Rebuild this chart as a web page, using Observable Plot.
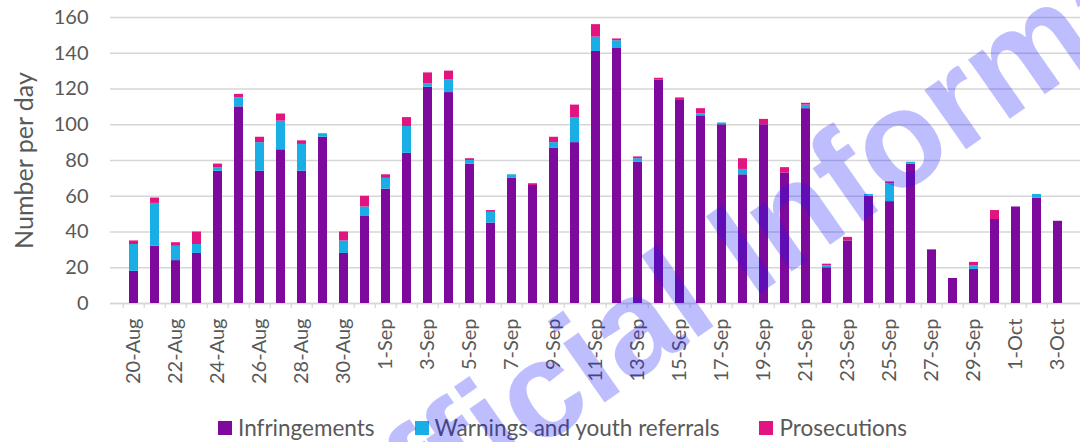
<!DOCTYPE html>
<html><head><meta charset="utf-8">
<script src="https://cdn.jsdelivr.net/npm/d3@7"></script>
<script src="https://cdn.jsdelivr.net/npm/@observablehq/plot@0.6"></script>
<style>
body{margin:0;background:#fff;width:1080px;height:442px;overflow:hidden;position:relative;font-family:Lato,sans-serif;}
#legend{position:absolute;left:0;top:414px;width:1080px;box-sizing:border-box;padding-left:218px;display:flex;justify-content:flex-start;align-items:center;font-size:22.5px;color:#595959;line-height:28px}
#legend .item{display:flex;align-items:center;margin-right:40px}
#legend .sw{display:inline-block;width:14px;height:14px;margin-right:6px}
#wm{position:absolute;left:0;top:0;pointer-events:none}
</style></head><body>
<div id="chart"></div>
<div id="legend"></div>
<svg id="wm" width="1080" height="442"><text x="341" y="587" transform="rotate(-35 341 587)" font-family="Liberation Sans, Arial, sans-serif" font-weight="bold" font-size="137" fill="rgb(20,20,250)" fill-opacity="0.28">Official Information</text></svg>
<script>
const dates = ["20-Aug","21-Aug","22-Aug","23-Aug","24-Aug","25-Aug","26-Aug","27-Aug","28-Aug","29-Aug","30-Aug","31-Aug",
"1-Sep","2-Sep","3-Sep","4-Sep","5-Sep","6-Sep","7-Sep","8-Sep","9-Sep","10-Sep",
"11-Sep","12-Sep","13-Sep","14-Sep","15-Sep","16-Sep","17-Sep","18-Sep","19-Sep","20-Sep",
"21-Sep","22-Sep","23-Sep","24-Sep","25-Sep","26-Sep","27-Sep","28-Sep","29-Sep","30-Sep",
"1-Oct","2-Oct","3-Oct"];
const infringements = [18,32,24,28,74,110,74,86,74,93,28,49,
64,84,121,118,78,45,70,66,87,90,
141,143,79,125,114,105,100,72,100,73,
109,20,35,60,57,78,30,14,19,47,
54,59,46];
const warnings = [15,24,8,5,2,5,16,16,15,2,7,5,
6,15,2,7,2,6,2,0,3,14,
8,4,2,0,0,1,1,3,0,0,
2,1,0,1,10,1,0,0,2,0,
0,2,0];
const prosecutions = [2,3,2,7,2,2,3,4,2,0,5,6,
2,5,6,5,1,1,0,1,3,7,
7,1,1,1,1,3,0,6,3,3,
1,1,2,0,1,0,0,0,2,5,
0,0,0];
const series = ["Infringements","Warnings and youth referrals","Prosecutions"];
const colors = ["#7d0a9c","#19aee6","#e2147f"];
const yTicks = [0,20,40,60,80,100,120,140,160];
const xTicks = dates.filter((d,i)=>i%2===0);

const values = [infringements, warnings, prosecutions];
const data = dates.flatMap((d,i)=>series.map((s,k)=>({date:d, type:s, value:values[k][i]})));

const W = 1080, ML = 110, MR = 0;
const step = (W - ML - MR) / dates.length;

const chart = Plot.plot({
  width:W, height:410, marginLeft:ML, marginRight:MR, marginTop:17, marginBottom:107,
  style:{fontFamily:"Lato, sans-serif", color:"#595959", background:"white", overflow:"visible"},
  x:{type:"band", domain:dates, paddingInner:0.58, paddingOuter:0.29},
  y:{domain:[0,160]},
  color:{domain:series, range:colors},
  marks:[
    Plot.gridY(yTicks, {stroke:"#d6d6d6", strokeOpacity:1, strokeWidth:1.5}),
    Plot.ruleY([0], {stroke:"#d6d6d6", strokeWidth:1.5}),
    Plot.ruleX(dates, {x:d=>d, y1:0, y2:-2.8, dx:-step/2, stroke:"#d6d6d6", strokeWidth:1.2}),
    Plot.barY(data, {x:"date", y:"value", fill:"type"}),
    Plot.axisY(yTicks, {tickSize:0, tickPadding:22, fontSize:20, label:null}),
    Plot.axisY({tickSize:0, ticks:[], fontSize:25, label:"Number per day", labelAnchor:"center", labelArrow:"none", labelOffset:95}),
    Plot.axisX(xTicks, {tickSize:0, tickRotate:-90, tickPadding:15, fontSize:20, label:null})
  ]
});
document.getElementById("chart").append(chart);

const legend = d3.select("#legend");
series.forEach((s,k)=>{
  const it = legend.append("div").attr("class","item");
  it.append("span").attr("class","sw").style("background",colors[k]);
  it.append("span").text(s);
});
</script>
</body></html>
